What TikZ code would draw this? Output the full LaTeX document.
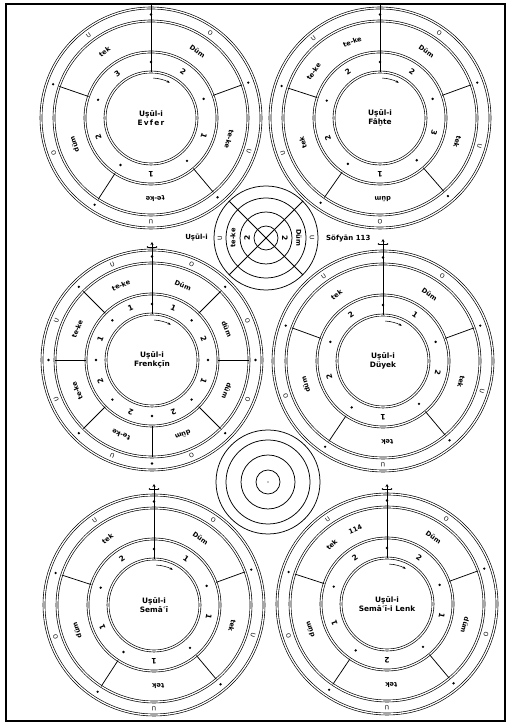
\documentclass[tikz,border=0pt]{standalone}
\usepackage{fontspec}
\setmainfont{DejaVu Sans}
\usetikzlibrary{arrows.meta,calc}
\tikzset{
  dbl/.style={draw=black, line width=0.65pt, double=white, double distance=1.3pt},
  sepline/.style={draw=black, line width=0.75pt},
  thinc/.style={draw=black, line width=0.75pt},
  syl/.style={font=\bfseries\fontsize{6.6}{7}\selectfont, inner sep=0pt},
  num/.style={font=\bfseries\fontsize{7.5}{8}\selectfont, inner sep=0pt},
  sym/.style={font=\fontsize{6}{6.5}\selectfont, inner sep=0pt},
  ctr/.style={font=\bfseries\fontsize{7.4}{9}\selectfont, align=center, inner sep=0pt},
  lbl/.style={font=\bfseries\fontsize{7}{8}\selectfont, inner sep=0pt},
  frame/.style={draw=black, line width=1.6pt},
  smallc/.style={draw=black, line width=0.75pt},
}
\newcommand\usulwheel[7]{%
 \begin{scope}[shift={(#2)}]
  \coordinate (#1) at (0,0);
  \coordinate (#1-in) at (90:46);
  \foreach \r in {110,97,66,46} \draw[dbl] (0,0) circle[radius=\r];
  \foreach \a in {#3} \draw[sepline] (\a:66) -- (\a:97);
  \foreach \a in {90,#3} {\fill (\a:103.5) circle[radius=1.3]; \fill (\a:56) circle[radius=1.3];}
  \foreach \a/\t [count=\i] in {#4} \node[syl, rotate=\a-90] (#1-s\i) at (\a:81) {\t};
  \foreach \a/\t [count=\i] in {#5} \node[num, rotate=\a-90] (#1-n\i) at (\a:56) {\t};
  \foreach \a/\t [count=\i] in {#6} \node[sym, rotate=\a-90] (#1-m\i) at (\a:103.5) {\t};
  \node[ctr] (#1-c) at (0,0) {#7};
  \draw[-{Stealth[length=3pt,width=2.4pt]}, line width=0.55pt] (87:40) arc[start angle=87, end angle=62, radius=40];
 \end{scope}
}
\newcommand\crossmark[1]{%
 \begin{scope}[shift={(#1)}]
  \draw[thinc] (-4,-2) -- (4,-2);
  \draw[-{Stealth[length=3pt,width=3pt]}, line width=0.6pt] (0,-3) -- (0,3);
  \fill (-4.5,-2) circle[radius=0.8]; \fill (4.5,-2) circle[radius=0.8];
 \end{scope}
}
\begin{document}
\begin{tikzpicture}[x=1pt,y=1pt]
\useasboundingbox (0,0) rectangle (507,727);
\draw[frame] (6,6) rectangle (505,723);

% top-left: Evfer
\usulwheel{TL}{151,609}{20,161,237,310}
 {55/Düm,345/te-ke,273/te-ke,199/düm,125/tek}
 {55/2,341/1,270/1,200/2,127/3}
 {55/O,341/U,270/U,200/O,127/U}
 {Uṣūl-i\\E\,v\,f\,e\,r}
\coordinate (TLtop) at (151,723);
\draw[thinc] (TLtop) -- (TL-in);

% top-right: Fahte
\usulwheel{TR}{380,609}{20,162,235,311}
 {55/Düm,343/tek,272/düm,198/tek,145/te-ke,110/te-ke}
 {55/2,345/3,270/1,201/2,125/2}
 {55/O,344/U,270/O,200/U,130/U}
 {Uṣūl-i\\Fâḫte}
\coordinate (TRtop) at (380,723);
\draw[thinc] (TRtop) -- (TR-in);

% middle-left: Frenkcin
\usulwheel{ML}{152,367}{0,45,135,180,225,270,315}
 {112.5/te-ke,67.5/Düm,22.5/düm,337.5/düm,292.5/düm,247.5/te-ke,202.5/te-ke,157.5/te-ke}
 {112.5/1,67.5/1,22.5/2,337.5/1,292.5/2,247.5/2,202.5/2,157.5/1}
 {112.5/U,67.5/O,22.5/O,337.5/O,292.5/O,247.5/U,202.5/U,157.5/U}
 {Uṣūl-i\\Frenkçīn}
\coordinate (MLtop) at (152,482);
\draw[thinc] (MLtop) -- (ML-in);
\crossmark{MLtop}

% middle-right: Duyek
\usulwheel{MR}{383,366}{20,160,236,310}
 {55/Düm,345/tek,273/tek,197/düm,125/tek}
 {55/1,348/2,270/1,196/2,125/2}
 {55/O,343/U,270/U,200/O,125/U}
 {Uṣūl-i\\Düyek}
\coordinate (MRtop) at (383,485);
\draw[thinc] (MRtop) -- (MR-in);
\crossmark{MRtop}

% bottom-left: Semai
\usulwheel{BL}{154,122}{20,162,237,310}
 {55/Düm,345/tek,273/tek,198/düm,125/tek}
 {55/1,348/1,270/1,203/1,125/2}
 {55/O,343/U,270/U,198/O,125/U}
 {Uṣūl-i\\Semāʿī}
\coordinate (BLtop) at (154,240);
\draw[thinc] (BLtop) -- (BL-in);
\crossmark{BLtop}

% bottom-right: Semai-i Lenk
\usulwheel{BR}{387,123}{20,162,236,310}
 {55/Düm,345/düm,273/tek,198/düm,133/tek,113/114}
 {55/2,348/1,270/2,200/1,125/2}
 {55/O,343/O,270/U,198/O,125/U}
 {Uṣūl-i\\Semāʿī-i Lenk}
\coordinate (BRtop) at (387,240);
\draw[thinc] (BRtop) -- (BR-in);
\crossmark{BRtop}

% Sofyan small wheel
\begin{scope}[shift={(266,489)}]
 \coordinate (SF) at (0,0);
 \foreach \r in {52,40,26,12} \draw[smallc] (0,0) circle[radius=\r];
 \foreach \a in {45,135,225,315} \draw[smallc] (0,0) -- (\a:52);
 \node[syl, rotate=90] (SF-s1) at (180:33) {te-ke};
 \node[syl, rotate=-90] (SF-s2) at (0:33) {Düm};
 \node[num, rotate=90] (SF-n1) at (180:19) {2};
 \node[num, rotate=-90] (SF-n2) at (0:19) {2};
 \node[sym, rotate=90] (SF-m1) at (180:46) {U};
 \node[sym, rotate=-90] (SF-m2) at (0:46) {U};
\end{scope}
\node[lbl, anchor=east] (SFl) at (208,489) {Uṣūl-i};
\node[lbl, anchor=west] (SFr) at (326,488) {Söfyān 113};

% plain small wheel
\begin{scope}[shift={(268,245)}]
 \coordinate (PW) at (0,0);
 \foreach \r in {52,42,27,12} \draw[smallc] (0,0) circle[radius=\r];
 \fill (0,0) circle[radius=0.7];
\end{scope}
\end{tikzpicture}
\end{document}
